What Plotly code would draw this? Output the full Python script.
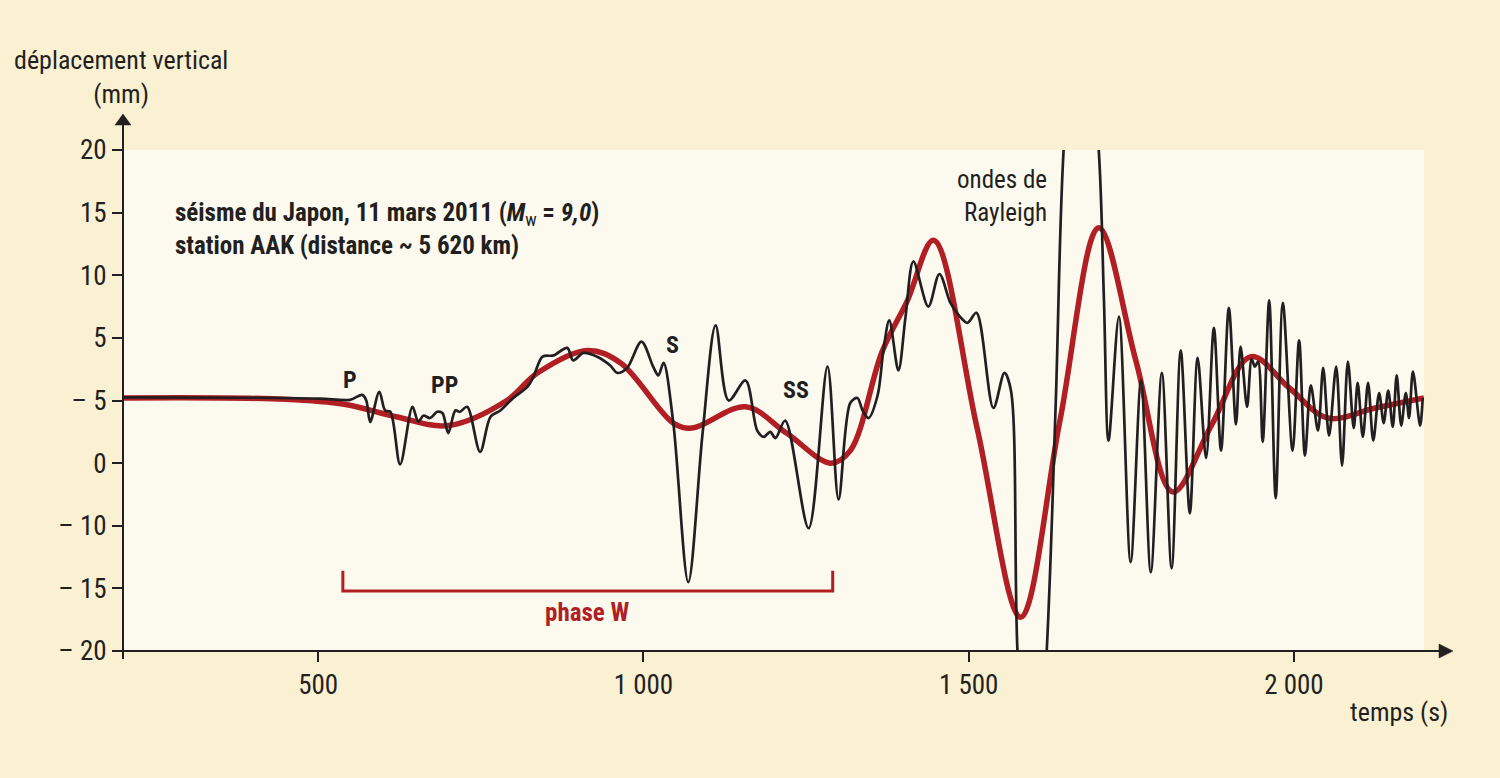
import plotly.graph_objects as go

# ---------------- data ----------------
# black seismogram (time s, vertical displacement mm)
black_t = [200, 400, 503, 549, 568, 574, 580, 594, 603, 611, 626, 645, 654, 662, 672, 683, 691, 700,
           711, 718, 729, 749, 765, 780, 800, 822, 831, 845, 862, 883, 892, 908, 929, 949, 960, 975,
           997, 1015, 1023, 1031, 1046, 1069, 1091, 1111, 1131, 1157, 1175, 1185, 1195, 1203, 1218,
           1254, 1283, 1300, 1318, 1329, 1337, 1346, 1360, 1369, 1378, 1392, 1403, 1415, 1438, 1455,
           1472, 1485, 1498, 1512, 1538, 1555, 1565, 1575, 1597, 1620, 1634, 1646, 1672, 1700, 1708,
           1715, 1731, 1749, 1765, 1780, 1797, 1812, 1826, 1840, 1852, 1865, 1877, 1888, 1900, 1911,
           1918, 1928, 1935, 1940, 1945, 1952, 1962, 1972, 1983, 1998, 2008, 2017, 2026, 2037, 2045,
           2054, 2065, 2074, 2083, 2092, 2098, 2106, 2114, 2122, 2131, 2138, 2145, 2152, 2158, 2165,
           2172, 2177, 2183, 2194, 2198]
black_v = [0.25, 0.22, 0.15, 0.05, 0.45, 0.0, -1.7, 0.7, -0.8, -0.9, -5.1, -0.5, -1.7, -1.2, -1.4, -0.9, -1.0, -2.6,
           -0.8, -0.9, -0.5, -4.1, -1.3, -0.8, 0.2, 1.1, 1.9, 3.5, 3.6, 4.2, 3.2, 3.8, 3.5, 2.8, 2.2, 2.6,
           4.7, 2.7, 2.0, 3.0, -1.8, -14.5, -2.6, 6.0, 0.0, 1.6, -2.4, -2.9, -2.5, -3.0, -1.6,
           -10.2, 2.7, -7.9, -0.2, 0.2, -0.8, -1.4, 0.4, 4.0, 6.4, 2.4, 6.7, 11.1, 7.5, 10.1,
           7.8, 6.8, 6.2, 7.0, -0.6, 2.2, 0.8, -20, -38, -20, 0, 20, 36, 20, 8,
           -3.2, 6.7, -12.9, 1.6, -13.7, 2.2, -13.4, 4.0, -9.0, 3.4, -4.6, 5.8, -4.0, 7.4, -1.9,
           4.3, -0.5, 3.3, 2.7, 3.1, -3.3, 8.0, -7.8, 7.8, -4.0, 4.8, -4.4, 1.2, -2.4, 2.6,
           -2.8, 2.7, -5.2, 3.1, -2.2, 1.4, -2.9, 1.4, -3.2, 0.6, -1.8, 0.8, -2.1, 2.0, -2.0,
           0.6, -1.4, 2.3, -2.0, 0.2]

# red W-phase (long period) trace
red_t = [200, 450, 540, 620, 700, 790, 837, 914, 965, 1046, 1075, 1157, 1220, 1288, 1318, 1367, 1406,
         1446, 1513, 1580, 1640, 1700, 1757, 1814, 1874, 1934, 1993, 2052, 2125, 2200]
red_v = [0.2, 0.1, -0.3, -1.3, -2.0, 0.0, 2.2, 4.0, 3.0, -1.8, -2.2, -0.5, -2.6, -5.0, -4.0, 3.9, 8.0,
         12.8, -2.2, -17.3, -1.7, 13.8, 3.2, -7.3, -1.9, 3.5, 1.0, -1.4, -0.6, 0.2]

y_tickvals = [20, 15, 10, 5, 0, -5, -10, -15, -20]
y_ticktext = ["20", "15", "10", "5", "\u2013 5", "0", "\u2013 10", "\u2013 15", "\u2013 20"]
x_tickvals = [500, 1000, 1500, 2000]
x_ticktext = ["500", "1\u00a0000", "1\u00a0500", "2\u00a0000"]

phase_labels = ["P", "PP", "S", "SS"]
phase_label_t = [549, 694, 1045, 1234]
phase_label_v = [1.6, 1.2, 4.4, 0.8]

phase_w_start, phase_w_end = 538, 1291
phase_w_level, phase_w_top = -15.2, -13.6
phase_w_label_v = -16.9

# ---------------- style ----------------
FONT = "Liberation Sans Narrow, Roboto Condensed, DejaVu Sans Condensed, Arial Narrow, sans-serif"
INK = "#231f20"
RED = "#b11e24"
PAPER = "#faf0d2"
PLOT = "#fcfaef"

fig = go.Figure()
fig.add_trace(go.Scatter(x=red_t, y=red_v, mode="lines",
                         line=dict(color=RED, width=5.5, shape="spline", smoothing=1.0),
                         hoverinfo="skip", showlegend=False))
fig.add_trace(go.Scatter(x=black_t, y=black_v, mode="lines",
                         line=dict(color=INK, width=2.7, shape="spline", smoothing=0.9),
                         hoverinfo="skip", showlegend=False))

fig.update_layout(
    width=1500, height=778,
    margin=dict(l=123, r=76, t=150, b=127),
    paper_bgcolor=PAPER, plot_bgcolor=PLOT,
    font=dict(family=FONT, color=INK, size=26),
    showlegend=False,
)
fig.update_xaxes(range=[200, 2200], showgrid=False, zeroline=False, showline=False,
                 tickmode="array", tickvals=x_tickvals, ticktext=x_ticktext,
                 ticks="outside", ticklen=10, tickwidth=1.5, tickcolor=INK,
                 tickfont=dict(family=FONT, size=27, color=INK))
fig.update_yaxes(range=[-20, 20], showgrid=False, zeroline=False, showline=False,
                 tickmode="array", tickvals=y_tickvals, ticktext=y_ticktext,
                 ticks="outside", ticklen=10, tickwidth=1.5, tickcolor=INK,
                 tickfont=dict(family=FONT, size=27, color=INK))

# axes with arrows (paper coords)
pw, ph = 1301.0, 501.0
fig.add_shape(type="line", xref="paper", yref="paper", x0=-10 / pw, x1=1318 / pw, y0=0, y1=0,
              line=dict(color=INK, width=2))
fig.add_shape(type="path", xref="paper", yref="paper",
              path=f"M {1316/pw} {7/ph} L {1330/pw} 0 L {1316/pw} {-7/ph} Z",
              fillcolor=INK, line=dict(color=INK, width=0.5))
fig.add_shape(type="line", xref="paper", yref="paper", x0=0, x1=0, y0=-8 / ph, y1=1 + 26 / ph,
              line=dict(color=INK, width=2))
fig.add_shape(type="path", xref="paper", yref="paper",
              path=f"M {-8/pw} {1+25/ph} L 0 {1+36/ph} L {8/pw} {1+25/ph} Z",
              fillcolor=INK, line=dict(color=INK, width=0.5))

# phase W bracket
fig.add_shape(type="path", xref="x", yref="y",
              path=f"M {phase_w_start} {phase_w_top} L {phase_w_start} {phase_w_level} "
                   f"L {phase_w_end} {phase_w_level} L {phase_w_end} {phase_w_top}",
              line=dict(color=RED, width=3))
fig.add_annotation(x=(phase_w_start + phase_w_end) / 2, y=phase_w_label_v, xref="x", yref="y",
                   text="<b>phase W</b>", showarrow=False,
                   font=dict(family=FONT, size=25, color=RED), yanchor="middle")

for lab, t, v in zip(phase_labels, phase_label_t, phase_label_v):
    fig.add_annotation(x=t, y=v, xref="x", yref="y", text=f"<b>{lab}</b>", showarrow=False,
                       font=dict(family=FONT, size=24, color=INK), yanchor="middle")

fig.add_annotation(x=1624, y=16.3, xref="x", yref="y", text="ondes de<br>Rayleigh",
                   showarrow=False, xanchor="right", yanchor="middle", align="right",
                   font=dict(family=FONT, size=25, color=INK))

fig.add_annotation(x=277, y=13.7, xref="x", yref="y",
                   text="<b>séisme du Japon, 11 mars 2011 (<i>M</i></b><sub>w</sub><b> = <i>9,0</i>)</b><br>"
                        "<b>station AAK (distance ~ 5\u00a0620 km)</b>",
                   showarrow=False, xanchor="left", yanchor="middle", align="left",
                   font=dict(family=FONT, size=25, color=INK))

fig.add_annotation(x=-2 / pw, y=(651 - 77) / ph, xref="paper", yref="paper",
                   text="déplacement vertical<br>(mm)", showarrow=False,
                   xanchor="center", yanchor="middle", align="center",
                   font=dict(family=FONT, size=26, color=INK))
fig.add_annotation(x=(1450 - 123) / pw, y=(651 - 712) / ph, xref="paper", yref="paper",
                   text="temps (s)", showarrow=False, xanchor="right", yanchor="middle",
                   font=dict(family=FONT, size=26, color=INK))

fig.write_html("out.html")
